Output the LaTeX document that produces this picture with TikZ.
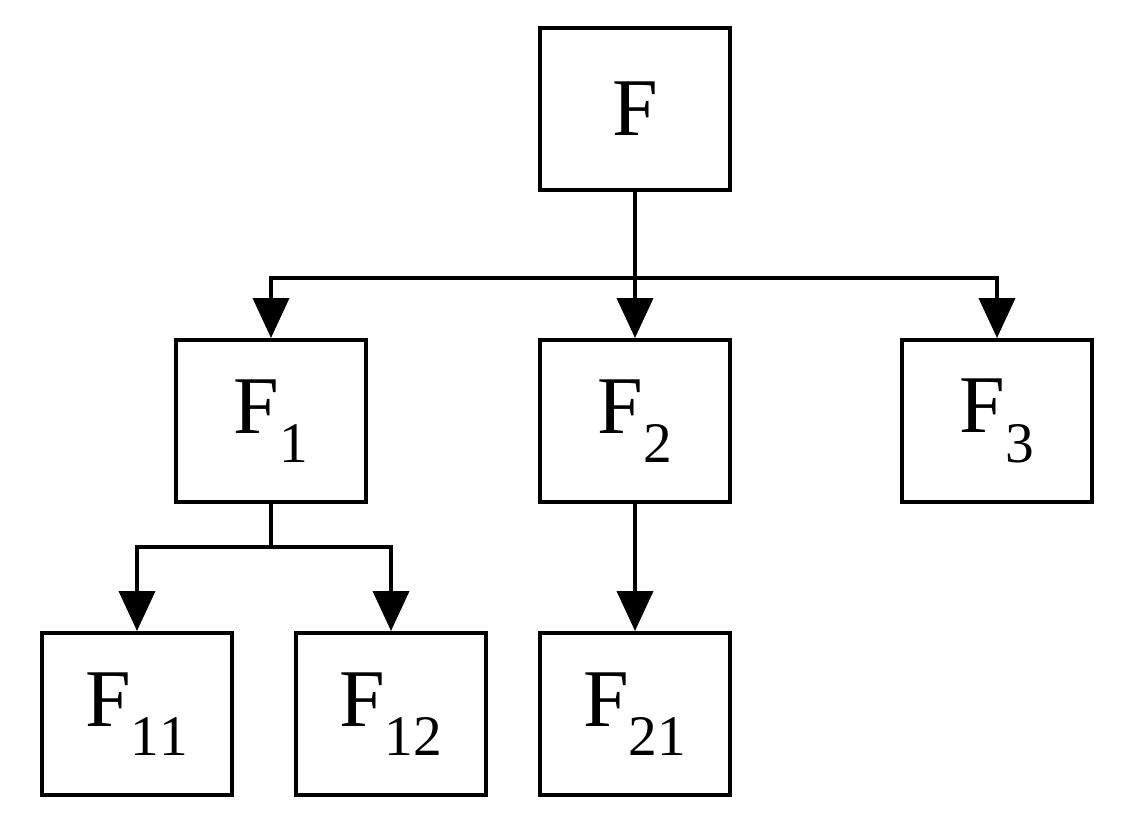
\documentclass[tikz,border=0pt]{standalone}
\usepackage{fontspec}
\setmainfont{Liberation Serif}
\usetikzlibrary{arrows.meta}
\begin{document}
\begin{tikzpicture}[x=1pt,y=-1pt,
  box/.style={draw,line width=4pt,minimum width=190pt,minimum height=162pt,inner sep=0pt,font=\fontsize{82}{82}\selectfont},
  con/.style={line width=4pt},
  arr/.style={con,-{Triangle[width=36pt,length=40pt]}}]
\useasboundingbox (0,0) rectangle (1122,825);
\node[box] (F) at (635,109) {F};
\node[box] (F1) at (271,421) {F$_{\mathrm{1}}$};
\node[box] (F2) at (635,421) {F$_{\mathrm{2}}$};
\node[box] (F3) at (997,421) {F$_{\mathrm{3}}$};
\node[box] (F11) at (137,714) {F$_{\mathrm{11}}$};
\node[box] (F12) at (391,714) {F$_{\mathrm{12}}$};
\node[box] (F21) at (635,714) {F$_{\mathrm{21}}$};
\coordinate (b) at (635,278);
\coordinate (b1) at (271,547);
\draw[arr] (F.south) -- (F2.north);
\draw[arr] (b) -| (F1.north);
\draw[arr] (b) -| (F3.north);
\draw[con] (F1.south) -- (b1);
\draw[arr] (b1) -| (F11.north);
\draw[arr] (b1) -| (F12.north);
\draw[arr] (F2.south) -- (F21.north);
\end{tikzpicture}
\end{document}
